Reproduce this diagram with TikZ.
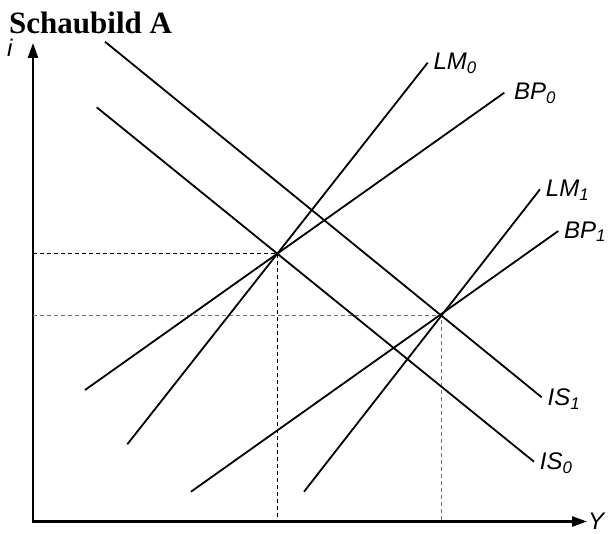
\documentclass[tikz,border=0pt]{standalone}
\usepackage{fontspec}
\setmainfont{Liberation Serif}
\setsansfont{Liberation Sans}
\usetikzlibrary{arrows.meta,calc}

\begin{document}
\begin{tikzpicture}[
  x=1pt, y=-1pt,
  font=\sffamily\itshape\fontsize{24}{28}\selectfont,
  axis/.style={line width=2.4pt, line join=miter, {Triangle[length=15pt,width=10pt]}-{Triangle[length=15pt,width=10pt]}},
  curve/.style={line width=1.8pt},
  guide/.style={line width=1pt, dash pattern=on 4pt off 3pt},
  lbl/.style={anchor=base west, inner sep=0pt, xshift=5pt, yshift=-7pt}
]
\useasboundingbox (0,0) rectangle (609,534);

\node[anchor=base west, inner sep=0pt, font=\rmfamily\bfseries\fontsize{31}{36}\selectfont] (title) at (9,34) {Schaubild A};

\coordinate (o) at (33,521.5);
\coordinate (ytip) at (33,43);
\coordinate (xtip) at (587,521.5);
\draw[axis] (ytip) -- (o) -- (xtip);
\node[anchor=base west, inner sep=0pt] (ilab) at (7,57) {i};
\node[anchor=base west, inner sep=0pt] (ylab) at (588,529) {Y};

\coordinate (is1a) at (105,41.7);   \coordinate (is1b) at (541.7,397.3);
\coordinate (is0a) at (96.7,107.3); \coordinate (is0b) at (534,461.7);
\coordinate (lm0a) at (127.3,444.3); \coordinate (lm0b) at (427.7,62.7);
\coordinate (bp0a) at (85,390);     \coordinate (bp0b) at (504.3,92.7);
\coordinate (lm1a) at (304,491.7);  \coordinate (lm1b) at (540,189.3);
\coordinate (bp1a) at (191,491.7);  \coordinate (bp1b) at (558.3,231);

\coordinate (e0) at (intersection of lm0a--lm0b and is0a--is0b);
\coordinate (e1) at (intersection of lm1a--lm1b and is1a--is1b);
\draw[guide] (e0 -| o) -- (e0) -- (e0 |- o);
\draw[guide, draw=black!55] (e1 -| o) -- (e1) -- (e1 |- o);

\draw[curve] (is1a) -- (is1b) node[lbl, yshift=-1pt] (is1) {IS\textsubscript{1}};
\draw[curve] (is0a) -- (is0b) node[lbl, yshift=-1pt] (is0) {IS\textsubscript{0}};
\draw[curve] (lm0a) -- (lm0b) node[lbl] (lm0) {LM\textsubscript{0}};
\draw[curve] (bp0a) -- (bp0b) node[lbl, xshift=4pt] (bp0) {BP\textsubscript{0}};
\draw[curve] (lm1a) -- (lm1b) node[lbl] (lm1) {LM\textsubscript{1}};
\draw[curve] (bp1a) -- (bp1b) node[lbl] (bp1) {BP\textsubscript{1}};
\end{tikzpicture}
\end{document}
